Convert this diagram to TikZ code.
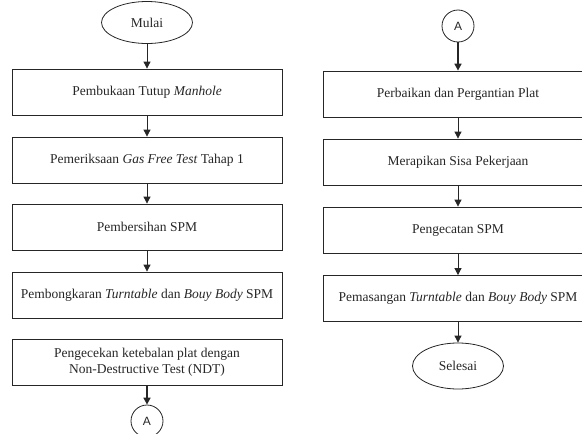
\documentclass[tikz,border=0pt]{standalone}
\usepackage{fontspec}
\setmainfont{Liberation Serif}
\newfontfamily\konfont{Liberation Sans}
\usetikzlibrary{shapes.geometric,arrows.meta}
\tikzset{
proses/.style = {draw, rectangle, minimum width=270pt, minimum height=46pt, inner sep=2pt, align=center, font=\fontsize{13.5}{16.5}\selectfont},
terminal/.style = {draw, ellipse, minimum width=91pt, minimum height=42pt, inner sep=0pt, font=\fontsize{13.5}{16.5}\selectfont},
konektor/.style = {draw, circle, minimum size=32pt, inner sep=0pt, font=\konfont\fontsize{12}{14}\selectfont},
alur/.style = {-{Triangle[length=7pt,width=7pt]}}
}
\begin{document}
\begin{tikzpicture}[x = 1pt, y = -1pt, line width = 0.8pt, color = black!85]
\useasboundingbox (0,0) rectangle (582,434);
% kolom kiri
\node [terminal] (mulai) at (147,22.5) {Mulai};
\node [proses] (p1) at (147,92) {Pembukaan Tutup \emph{Manhole}};
\node [proses] (p2) at (147,160) {Pemeriksaan \emph{Gas Free Test} Tahap 1};
\node [proses] (p3) at (147,227) {Pembersihan SPM};
\node [proses] (p4) at (147,295) {Pembongkaran \emph{Turntable} dan \emph{Bouy Body} SPM};
\node [proses] (p5) at (147,362) {Pengecekan ketebalan plat dengan\\Non-Destructive Test (NDT)};
\node [konektor] (akiri) at (147,421) {A};
% kolom kanan
\node [konektor] (akanan) at (458,26) {A};
\node [proses] (r1) at (458,94) {Perbaikan dan Pergantian Plat};
\node [proses] (r2) at (458,162) {Merapikan Sisa Pekerjaan};
\node [proses] (r3) at (458,230) {Pengecatan SPM};
\node [proses] (r4) at (458,298.5) {Pemasangan \emph{Turntable} dan \emph{Bouy Body} SPM};
\node [terminal, minimum height=46pt] (selesai) at (458,366) {Selesai};
\foreach \a/\b in {mulai/p1,p1/p2,p2/p3,p3/p4,r1/r2,r2/r3,r3/r4,r4/selesai}{
\draw [alur] (\a) -- (\b);
}
\draw [alur, line width = 1.6pt] (p5) -- (akiri);
\draw [alur, line width = 1.6pt] (akanan) -- (r1);
\end{tikzpicture}
\end{document}
